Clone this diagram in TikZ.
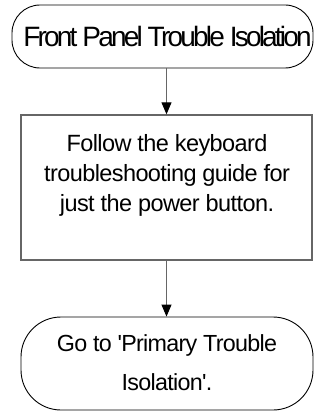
\documentclass[tikz,border=0pt]{standalone}
\usepackage{fontspec}
\setmainfont{Liberation Sans}
\newfontfamily\topfont[LetterSpace=-10]{Liberation Sans}
\newfontfamily\boxfont[LetterSpace=-2.5]{Liberation Sans}
\newfontfamily\botfont[LetterSpace=-3]{Liberation Sans}
\usetikzlibrary{arrows.meta}
\begin{document}
\begin{tikzpicture}[x=1pt,y=-1pt,
  termbox/.style={draw=black,line width=0.9pt,inner sep=0pt},
  procbox/.style={draw=black!60,line width=1.4pt,inner sep=0pt,minimum width=291pt,minimum height=145pt},
  txt/.style={inner sep=0pt,anchor=base},
  conn/.style={draw=black!60,line width=1pt,-{Triangle[length=12pt,width=10pt,fill=black,color=black]}}]
\useasboundingbox (0,0) rectangle (320,412);
\node[termbox,rounded corners=28pt,minimum width=301pt,minimum height=63pt] (top) at (162.5,36.5) {};
\node[txt] (toptxt) at (167.5,47) {\fontsize{28}{30}\topfont Front Panel Trouble Isolation};
\node[procbox] (p) at (166.5,187.5) {};
\node[txt] (p1) at (167,151.7) {\fontsize{23.5}{30}\boxfont Follow the keyboard};
\node[txt] (p2) at (167,181.7) {\fontsize{23.5}{30}\boxfont troubleshooting guide for};
\node[txt] (p3) at (167,211.7) {\fontsize{23.5}{30}\boxfont just the power button.};
\node[termbox,rounded corners=40pt,minimum width=292pt,minimum height=93pt] (bot) at (167,363.5) {};
\node[txt] (b1) at (167,351.7) {\fontsize{23.3}{30}\botfont Go to 'Primary Trouble};
\node[txt] (b2) at (167,390) {\fontsize{23.3}{30}\botfont Isolation'.};
\draw[conn] (p.north |- top.south) -- (p.north);
\draw[conn] (p.south) -- (p.south |- bot.north);
\end{tikzpicture}
\end{document}
